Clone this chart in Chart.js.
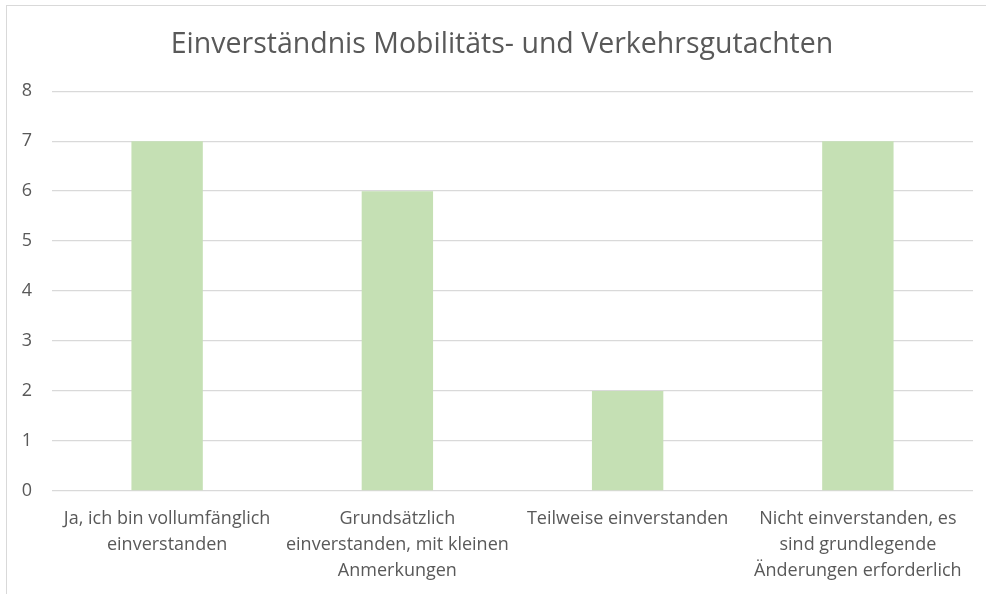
<!DOCTYPE html>
<html>
<head>
<meta charset="utf-8">
<script src="https://cdn.jsdelivr.net/npm/chart.js@4"></script>
<style>
html,body{margin:0;padding:0;background:#fff;}
#wrap{position:absolute;left:0;top:0;width:986px;height:594px;}
#frame{position:absolute;left:6px;top:5px;width:986px;height:600px;border-left:1px solid #d9d9d9;border-top:1px solid #d9d9d9;box-sizing:border-box;pointer-events:none;}
canvas{display:block;}
</style>
</head>
<body>
<div id="wrap"><canvas id="c" width="986" height="594"></canvas><div id="frame"></div></div>
<script>
const titleText = "Einverständnis Mobilitäts- und Verkehrsgutachten";
const categories = [
  ["Ja, ich bin vollumfänglich", "einverstanden"],
  ["Grundsätzlich", "einverstanden, mit kleinen", "Anmerkungen"],
  ["Teilweise einverstanden"],
  ["Nicht einverstanden, es", "sind grundlegende", "Änderungen erforderlich"]
];
const values = [7, 6, 2, 7];
const yTicks = [0, 1, 2, 3, 4, 5, 6, 7, 8];

const FONT = "'Open Sans', sans-serif";

// Center the title over the same span as in the reference (slightly right of the canvas centre)
const titleShift = {
  id: 'titleShift',
  afterLayout(chart) {
    const t = chart.titleBlock;
    if (t) { t.left = 31; t.right = chart.chartArea.right; }
  }
};

new Chart(document.getElementById('c'), {
  type: 'bar',
  data: {
    labels: categories,
    datasets: [{
      data: values,
      backgroundColor: '#c5e0b4',
      borderWidth: 0,
      barPercentage: 0.62,
      categoryPercentage: 0.5
    }]
  },
  plugins: [titleShift],
  options: {
    responsive: false,
    animation: false,
    layout: { padding: { left: 0, right: 13, top: 0, bottom: 0 } },
    plugins: {
      legend: { display: false },
      tooltip: { enabled: false },
      title: {
        display: true,
        text: titleText,
        color: '#595959',
        font: { family: FONT, size: 28.5, weight: 'normal', lineHeight: 1.2 },
        padding: { top: 28, bottom: 29 }
      }
    },
    scales: {
      x: {
        grid: { display: false, drawTicks: false },
        border: { display: false },
        ticks: {
          color: '#595959',
          font: { family: FONT, size: 18, lineHeight: 1.45 },
          padding: 15,
          maxRotation: 0,
          autoSkip: false
        },
        afterFit: s => { s.height = 103; }
      },
      y: {
        min: 0, max: 8,
        afterBuildTicks: s => { s.ticks = yTicks.map(v => ({ value: v })); },
        grid: { color: '#d9d9d9', lineWidth: 1.3, drawTicks: false },
        border: { display: false },
        ticks: {
          color: '#595959',
          font: { family: FONT, size: 18 },
          padding: 20
        },
        afterFit: s => { s.width = 52; }
      }
    }
  }
});
</script>
</body>
</html>
